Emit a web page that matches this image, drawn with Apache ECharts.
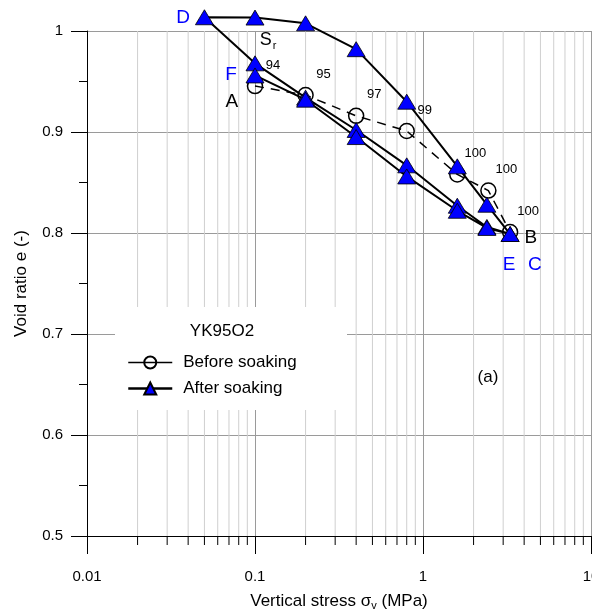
<!DOCTYPE html>
<html><head><meta charset="utf-8">
<script src="https://cdn.jsdelivr.net/npm/echarts@6/dist/echarts.min.js"></script>
<style>html,body{margin:0;padding:0;background:#fff}#c{width:592px;height:612px}</style>
</head><body><div id="c"></div>
<script>
// Before soaking (loading), stress in MPa and void ratio
const beforeStress = [0.1, 0.2, 0.4, 0.8, 1.6, 2.45, 3.3];
const beforeVoid   = [0.9455, 0.9366, 0.916, 0.901, 0.858, 0.842, 0.801];
const srValues     = [94, 95, 97, 99, 100, 100, 100];
// After soaking: C -> D (unloading), D -> E (reloading), E -> F (unloading)
const afterStress = [3.3, 2.4, 1.6, 0.8, 0.4, 0.2, 0.1, 0.05,
                     0.1, 0.2, 0.4, 0.8, 1.6, 2.4, 3.3,
                     2.4, 1.6, 0.8, 0.4, 0.2, 0.1];
const afterVoid   = [0.799, 0.828, 0.866, 0.930, 0.982, 1.0076, 1.0133, 1.0136,
                     0.968, 0.934, 0.902, 0.867, 0.827, 0.806, 0.799,
                     0.805, 0.822, 0.856, 0.895, 0.932, 0.956];
// Point letters
const letterNames  = ['D', 'F', 'A', 'B', 'E', 'C'];
const letterStress = [0.0373, 0.0719, 0.0729, 4.39, 3.25, 4.64];
const letterVoid   = [1.0129, 0.9564, 0.9297, 0.795, 0.7683, 0.7683];
const letterColors = ['#0000ff', '#0000ff', '#000000', '#000000', '#0000ff', '#0000ff'];
// Axis ticks
const yTicks = [0.5, 0.6, 0.7, 0.8, 0.9, 1];
const xMinorTicks = [0.02,0.03,0.04,0.05,0.06,0.07,0.08,0.09,
                     0.2,0.3,0.4,0.5,0.6,0.7,0.8,0.9,
                     2,3,4,5,6,7,8,9];

const FONT = 'Liberation Sans, Arial, sans-serif';
const chart = echarts.init(document.getElementById('c'), null, {renderer: 'canvas'});

const zip = (a, b) => a.map((v, i) => [v, b[i]]);

chart.setOption({
  backgroundColor: '#ffffff',
  animation: false,
  textStyle: {fontFamily: FONT},
  grid: {left: 87, top: 31, right: 1, bottom: 76, containLabel: false, outerBoundsMode: 'none'},
  xAxis: {
    type: 'log', logBase: 10, min: 0.01, max: 10,
    name: '{a|Vertical stress σ}{s|v}{a| (MPa)}',
    nameLocation: 'middle', nameGap: 49,
    nameTextStyle: {rich: {
      a: {fontSize: 17, color: '#000', fontFamily: FONT, lineHeight: 22, verticalAlign: 'middle'},
      s: {fontSize: 11, color: '#000', fontFamily: FONT, lineHeight: 22, verticalAlign: 'bottom', padding: [12, 0, 0, 0]}
    }},
    axisLine: {show: true, onZero: false, lineStyle: {color: '#000', width: 1}},
    axisTick: {show: true, length: 18, inside: false, lineStyle: {color: '#000'}},
    axisLabel: {fontSize: 15, color: '#000', margin: 33, fontFamily: FONT,
      formatter: v => String(v)},
    splitLine: {show: true, lineStyle: {color: '#9a9a9a', width: 1}},
    minorTick: {show: false}, minorSplitLine: {show: false}
  },
  yAxis: {
    type: 'value', min: 0.5, max: 1, interval: 0.1,
    name: 'Void ratio e (-)', nameLocation: 'middle', nameGap: 57,
    nameTextStyle: {fontSize: 17, color: '#000', fontFamily: FONT},
    axisLine: {show: true, onZero: false, lineStyle: {color: '#000', width: 1}},
    axisTick: {show: true, length: 16, lineStyle: {color: '#000'}},
    minorTick: {show: true, splitNumber: 2, length: 8, lineStyle: {color: '#000'}},
    axisLabel: {fontSize: 15, color: '#000', margin: 24, fontFamily: FONT,
      formatter: v => String(Math.round(v * 10) / 10)},
    splitLine: {show: true, lineStyle: {color: '#9a9a9a', width: 1}}
  },
  legend: {
    data: [
      {name: 'Before soaking', lineStyle: {type: 'solid', width: 1.5}},
      {name: 'After soaking', lineStyle: {width: 2.5}}
    ],
    orient: 'vertical', left: 122, top: 349, itemGap: 9,
    itemWidth: 44, itemHeight: 15, z: 100,
    textStyle: {fontSize: 17, color: '#000', fontFamily: FONT, padding: [0, 0, 0, 6]}
  },
  graphic: [
    {type: 'rect', z: 50, shape: {x: 115, y: 307, width: 232, height: 103}, style: {fill: '#fff'}},
    {type: 'text', z: 60, x: 222, y: 331, style: {text: 'YK95O2', fontSize: 17, fontFamily: FONT, fill: '#000', align: 'center', verticalAlign: 'middle'}},
    {type: 'text', z: 60, x: 488, y: 377, style: {text: '(a)', fontSize: 17, fontFamily: FONT, fill: '#000', align: 'center', verticalAlign: 'middle'}}
  ],
  series: [
    {
      type: 'custom', name: 'minorGrid', silent: true, clip: false, z: 0,
      data: xMinorTicks.map(v => [v, 0.5]),
      encode: {x: 0, y: 1},
      renderItem: (params, api) => {
        const v = api.value(0);
        const t = api.coord([v, 1]);
        const b = api.coord([v, 0.5]);
        return {type: 'group', children: [
          {type: 'line', shape: {x1: t[0], y1: t[1], x2: b[0], y2: b[1]}, style: {stroke: '#cfcfcf', lineWidth: 1}},
          {type: 'line', shape: {x1: b[0], y1: b[1], x2: b[0], y2: b[1] + 9}, style: {stroke: '#000', lineWidth: 1}}
        ]};
      }
    },
    {
      type: 'line', name: 'Before soaking', clip: false, z: 3,
      data: zip(beforeStress, beforeVoid),
      symbol: 'circle', symbolSize: 15,
      lineStyle: {color: '#000', width: 1.5, type: [9, 7]},
      itemStyle: {color: 'rgba(255,255,255,0)', borderColor: '#000', borderWidth: 1.5},
      label: {show: true, position: 'inside', offset: [18, -21], fontSize: 13, color: '#000', fontFamily: FONT,
        textBorderWidth: 0, formatter: p => String(srValues[p.dataIndex])}
    },
    {
      type: 'line', name: 'After soaking', clip: false, z: 4,
      data: zip(afterStress, afterVoid),
      symbol: 'triangle', symbolSize: [18, 15],
      lineStyle: {color: '#000', width: 2},
      itemStyle: {color: '#0000ff', borderColor: '#000', borderWidth: 0.8}
    },
    {
      type: 'scatter', name: 'letters', clip: false, silent: true, z: 6,
      symbolSize: 0, itemStyle: {opacity: 1},
      data: letterNames.map((n, i) => ({name: n, value: [letterStress[i], letterVoid[i]],
        label: {color: letterColors[i]}})),
      label: {show: true, position: 'inside', fontSize: 19, fontFamily: FONT, textBorderWidth: 0, opacity: 1,
        formatter: p => p.name}
    },
    {
      type: 'scatter', name: 'srTitle', clip: false, silent: true, z: 6,
      symbolSize: 0, itemStyle: {opacity: 1},
      data: [[0.1195, 0.991]],
      label: {show: true, position: 'inside', formatter: '{a|S}{b|r}', textBorderWidth: 0, opacity: 1,
        rich: {
          a: {fontSize: 18, color: '#000', fontFamily: FONT, lineHeight: 22, verticalAlign: 'middle', textBorderWidth: 0},
          b: {fontSize: 11, color: '#000', fontFamily: FONT, lineHeight: 22, verticalAlign: 'bottom', padding: [12, 0, 0, 1], textBorderWidth: 0}
        }}
    }
  ]
});
</script></body></html>
